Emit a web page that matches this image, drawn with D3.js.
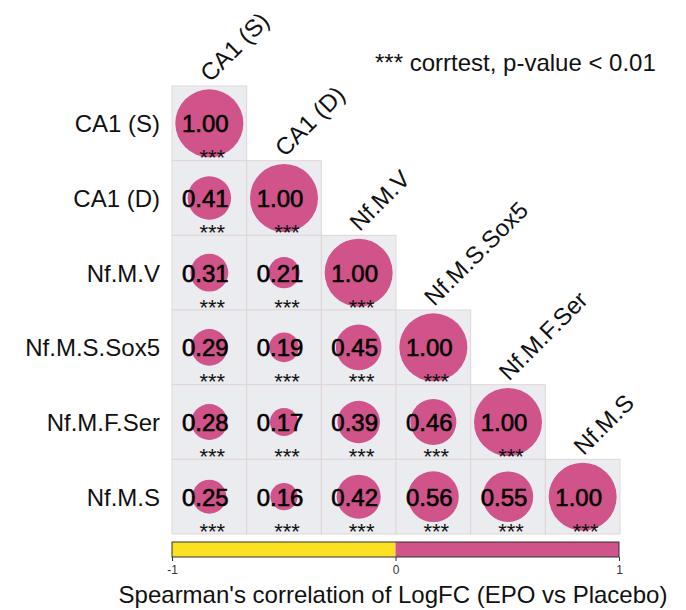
<!DOCTYPE html>
<html>
<head>
<meta charset="utf-8">
<script src="https://cdn.jsdelivr.net/npm/d3@7"></script>
<style>
  html, body { margin: 0; padding: 0; background: #fff; }
  svg { display: block; font-family: "Liberation Sans", Arial, sans-serif; }
</style>
</head>
<body>
<svg id="chart" width="686" height="610"></svg>
<script>
// Cell types compared
const categories = ["CA1 (S)", "CA1 (D)", "Nf.M.V", "Nf.M.S.Sox5", "Nf.M.F.Ser", "Nf.M.S"];

// Lower-triangle Spearman correlations, one row per category (diagonal included)
const rowCA1S   = [1.00];
const rowCA1D   = [0.41, 1.00];
const rowNfMV   = [0.31, 0.21, 1.00];
const rowNfMSS5 = [0.29, 0.19, 0.45, 1.00];
const rowNfMFS  = [0.28, 0.17, 0.39, 0.46, 1.00];
const rowNfMS   = [0.25, 0.16, 0.42, 0.56, 0.55, 1.00];
const corrRows = [rowCA1S, rowCA1D, rowNfMV, rowNfMSS5, rowNfMFS, rowNfMS];

// Significance marks (all pairs p < 0.01)
const sigMark = "***";

// Colour bar
const colorbarTicks = [-1, 0, 1];
const colorbarTickLabels = ["-1", "0", "1"];
const legendNote = "*** corrtest, p-value < 0.01";
const colorbarTitle = "Spearman's correlation of LogFC (EPO vs Placebo)";

const POS = "#d0538a", NEG = "#fbe122";
const CELL_FILL = "#ebecf0", CELL_STROKE = "#e2d6d6";

const svg = d3.select("#chart");

const x = d3.scaleBand().domain(categories).range([172, 620]).padding(0);
const y = d3.scaleBand().domain(categories).range([86, 534]).padding(0);
const r = d3.scaleSqrt().domain([0, 1]).range([0, 34]);
const fill = d3.scaleThreshold().domain([0]).range([NEG, POS]);

const cells = [];
corrRows.forEach((row, i) => row.forEach((v, j) => cells.push({ row: categories[i], col: categories[j], v })));

const g = svg.append("g");

// tiles
g.selectAll("rect.tile").data(cells).join("rect")
  .attr("class", "tile")
  .attr("x", d => x(d.col)).attr("y", d => y(d.row))
  .attr("width", x.bandwidth()).attr("height", y.bandwidth())
  .attr("fill", CELL_FILL).attr("stroke", CELL_STROKE).attr("stroke-width", 1);

// circles
g.selectAll("circle").data(cells).join("circle")
  .attr("cx", d => x(d.col) + x.bandwidth() / 2)
  .attr("cy", d => y(d.row) + y.bandwidth() / 2)
  .attr("r", d => r(Math.abs(d.v)))
  .attr("fill", d => fill(d.v));

// values
g.selectAll("text.val").data(cells).join("text")
  .attr("class", "val")
  .attr("x", d => x(d.col) + x.bandwidth() / 2 - 4)
  .attr("y", d => y(d.row) + y.bandwidth() / 2 + 9)
  .attr("text-anchor", "middle")
  .attr("font-size", 24).attr("fill", "#000")
  .attr("stroke", "#000").attr("stroke-width", 0.6)
  .text(d => d3.format(".2f")(d.v));

// significance stars
g.selectAll("text.sig").data(cells).join("text")
  .attr("class", "sig")
  .attr("x", d => x(d.col) + x.bandwidth() / 2 + 3)
  .attr("y", d => y(d.row) + y.bandwidth() / 2 + 42)
  .attr("text-anchor", "middle")
  .attr("font-size", 22).attr("fill", "#111")
  .text(sigMark);

// row labels
svg.append("g").selectAll("text").data(categories).join("text")
  .attr("x", 160)
  .attr("y", d => y(d) + y.bandwidth() / 2 + 9)
  .attr("text-anchor", "end")
  .attr("font-size", 24).attr("fill", "#111")
  .text(d => d);

// column labels, rotated above the diagonal
svg.append("g").selectAll("text").data(categories).join("text")
  .attr("transform", d => `translate(${x(d) + x.bandwidth() / 2 + 1},${y(d) - 3}) rotate(-45)`)
  .attr("text-anchor", "start")
  .attr("font-size", 24).attr("fill", "#111")
  .text(d => d);

// note
svg.append("text")
  .attr("x", 375).attr("y", 71)
  .attr("font-size", 24).attr("fill", "#111")
  .text(legendNote);

// colour bar
const cb = d3.scaleLinear().domain([-1, 1]).range([172, 619]);
const cbY = 542, cbH = 15;
svg.append("rect").attr("x", cb(-1)).attr("y", cbY).attr("width", cb(0) - cb(-1)).attr("height", cbH).attr("fill", NEG);
svg.append("rect").attr("x", cb(0)).attr("y", cbY).attr("width", cb(1) - cb(0)).attr("height", cbH).attr("fill", POS);
svg.append("rect").attr("x", cb(-1)).attr("y", cbY).attr("width", cb(1) - cb(-1)).attr("height", cbH)
  .attr("fill", "none").attr("stroke", "#333").attr("stroke-width", 1);

const axis = d3.axisBottom(cb).tickValues(colorbarTicks).tickSize(4).tickSizeOuter(0)
  .tickFormat((d, i) => colorbarTickLabels[i]);
const ax = svg.append("g").attr("transform", `translate(0,${cbY + cbH})`).call(axis);
ax.select(".domain").remove();
ax.selectAll(".tick line").attr("stroke", "#333");
ax.selectAll(".tick text").attr("font-size", 12).attr("fill", "#333").attr("dy", "0.8em")
  .attr("font-family", "Liberation Sans, Arial, sans-serif");

svg.append("text")
  .attr("x", 393).attr("y", 603)
  .attr("text-anchor", "middle")
  .attr("font-size", 24).attr("fill", "#111")
  .text(colorbarTitle);
</script>
</body>
</html>
